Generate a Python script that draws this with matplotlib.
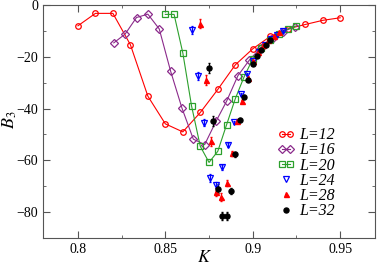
import matplotlib
matplotlib.use('Agg')
import matplotlib.pyplot as plt
from matplotlib.legend_handler import HandlerLine2D

# L=12
k12 = [0.80, 0.81, 0.82, 0.83, 0.84, 0.85, 0.86, 0.87, 0.88, 0.89, 0.90, 0.91, 0.92, 0.93, 0.94, 0.95]
b12 = [-8.0, -3.2, -3.2, -15.3, -35.2, -45.9, -49.0, -41.5, -32.6, -23.1, -16.9, -12.1, -9.2, -7.5, -5.9, -4.9]
# L=16
k16 = [0.8205, 0.827, 0.8335, 0.840, 0.8465, 0.853, 0.8595, 0.866, 0.8725, 0.879, 0.8850, 0.8915, 0.898, 0.9045, 0.911, 0.9175, 0.924]
b16 = [-14.6, -11.2, -4.8, -3.5, -9.2, -25.5, -39.8, -51.8, -53.9, -44.9, -37.2, -27.3, -21.3, -16.5, -13.0, -10.3, -8.3]
# L=20
k20 = [0.850, 0.855, 0.860, 0.865, 0.870, 0.875, 0.880, 0.885, 0.890, 0.895, 0.900, 0.905, 0.910, 0.915, 0.920, 0.925]
b20 = [-3.6, -3.6, -18.5, -39.0, -54.6, -60.8, -56.5, -46.3, -36.2, -27.8, -20.8, -16.5, -13.5, -11.0, -9.3, -8.0]
# L=24
k24 = [0.865, 0.8685, 0.872, 0.8755, 0.879, 0.8825, 0.886, 0.8895, 0.893, 0.8965, 0.900, 0.9035, 0.907, 0.9105, 0.914, 0.9175]
b24 = [-9.5, -27.5, -45.4, -66.9, -69.5, -62.7, -54.1, -45.2, -34.5, -26.5, -21.5, -18.0, -15.3, -13.2, -11.5, -10.1]
e24 = [1.5, 1.5, 1.2, 1.5, 1.2, 1.0, 0.8, 0.6, 0.6, 0.4, 0.4, 0.3, 0.3, 0.3, 0.3, 0.3]
# L=28
k28 = [0.870, 0.873, 0.876, 0.879, 0.882, 0.885, 0.888, 0.891, 0.894, 0.897, 0.900, 0.903, 0.906, 0.909, 0.912, 0.915]
b28 = [-7.2, -29.0, -52.6, -72.1, -74.2, -68.7, -57.2, -44.8, -37.1, -28.0, -21.5, -18.0, -15.5, -13.5, -12.0, -10.5]
e28 = [1.8, 1.8, 1.8, 1.5, 1.5, 1.2, 1.0, 0.8, 0.6, 0.5, 0.4, 0.3, 0.3, 0.3, 0.3, 0.3]
# L=32
k32 = [0.875, 0.8775, 0.880, 0.8825, 0.885, 0.8875, 0.890, 0.8925, 0.895, 0.8975, 0.900, 0.9025, 0.905, 0.9075, 0.910]
b32 = [-24.3, -44.8, -71.0, -81.5, -81.5, -71.7, -57.6, -44.5, -35.5, -29.0, -22.6, -19.5, -17.5, -15.5, -13.5]
e32 = [2.0, 1.8, 1.8, 1.5, 1.5, 1.2, 1.0, 0.8, 0.6, 0.5, 0.4, 0.4, 0.3, 0.3, 0.3]

plt.rcParams['font.family'] = 'Liberation Serif'
plt.rcParams['mathtext.fontset'] = 'stix'

fig = plt.figure(figsize=(3.77, 2.68), dpi=100)
ax = fig.add_axes([0.114, 0.112, 0.881, 0.869])

purple = '#8b2a8b'
green = '#2ca02c'

h12, = ax.plot(k12, b12, color='red', marker='o', ms=4, mfc='none', mew=0.9, lw=0.8, label='L=12')
h16, = ax.plot(k16, b16, color=purple, marker='D', ms=3.6, mfc='none', mew=0.9, lw=0.8, label='L=16')
h20, = ax.plot(k20, b20, color=green, marker='s', ms=4, mfc='none', mew=0.9, lw=0.8, label='L=20')

c24 = ax.errorbar(k24, b24, yerr=e24, color='blue', marker='v', ms=4, mfc='none', mew=0.9,
                  ls='none', elinewidth=0.9, capsize=1, label='L=24')
c28 = ax.errorbar(k28, b28, yerr=e28, color='red', marker='^', ms=3.6, ls='none',
                  elinewidth=0.9, capsize=1, label='L=28')
c32 = ax.errorbar(k32, b32, yerr=e32, color='black', marker='o', ms=3.6, ls='none',
                  elinewidth=0.9, capsize=1, label='L=32')

ax.set_xlim(0.78, 0.97)
ax.set_ylim(-90, 0)
ax.set_xticks([0.8, 0.85, 0.9, 0.95])
ax.set_xticklabels(['0.8', '0.85', '0.9', '0.95'])
ax.set_xticks([0.825, 0.875, 0.925], minor=True)
ax.set_yticks([0, -20, -40, -60, -80])
ax.set_yticks([-10, -30, -50, -70], minor=True)
ax.tick_params(which='both', direction='in', top=True, right=True, color='#555555', labelsize=10)
ax.tick_params(which='major', length=5)
ax.tick_params(which='minor', length=2.5)
for s in ax.spines.values():
    s.set_color('#555555')

# axis labels placed where the reference has them
fig.text(205 / 377, 1 - 258 / 268, '$K$', fontsize=13, ha='center', va='center')
fig.text(10 / 377, 1 - 120 / 268, '$B_3$', fontsize=13, ha='center', va='center', rotation=90)

leg = ax.legend(handles=[h12, h16, h20, c24[0], c28[0], c32[0]],
                labels=['L=12', 'L=16', 'L=20', 'L=24', 'L=28', 'L=32'],
                loc='upper left', bbox_to_anchor=(0.68, 0.51), frameon=False,
                prop={'style': 'italic', 'size': 11.5}, handlelength=1.1, handletextpad=0.3,
                labelspacing=-0.05, borderpad=0, numpoints=2,
                handler_map={c24[0]: HandlerLine2D(numpoints=1),
                             c28[0]: HandlerLine2D(numpoints=1),
                             c32[0]: HandlerLine2D(numpoints=1)})

fig.savefig('out.png', dpi=100)
